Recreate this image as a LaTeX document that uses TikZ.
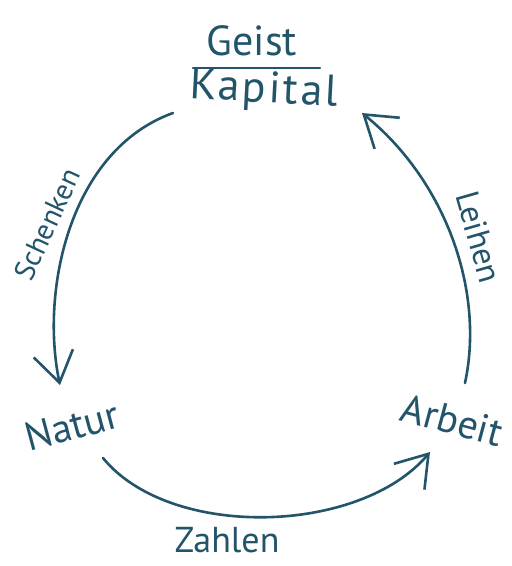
\documentclass[tikz,border=0pt]{standalone}
\usepackage{fontspec}
\setmainfont{PT Sans}
\usetikzlibrary{arrows.meta}
\definecolor{ink}{HTML}{22546A}
\begin{document}
\begin{tikzpicture}[x=1pt,y=-1pt,
  lbl/.style={text=ink,inner sep=0pt},
  conn/.style={draw=ink,line width=2.6pt,line cap=round,
    -{Straight Barb[length=30pt,width=40pt,line width=2.6pt]}}]
\useasboundingbox[fill=white] (0,0) rectangle (512,566);
% nodes
\node[lbl,font=\fontsize{42}{42}\selectfont] (geist) at (252,41) {Geist};
\node[lbl,font=\fontsize{44}{44}\selectfont\addfontfeatures{LetterSpace=6},rotate=-3] (kapital) at (264,91) {Kapital};
\node[lbl,font=\fontsize{40}{40}\selectfont,rotate=15] (natur) at (72,426) {Natur};
\node[lbl,font=\fontsize{40}{40}\selectfont,rotate=-15] (arbeit) at (452,420) {Arbeit};
\node[lbl,font=\fontsize{36}{36}\selectfont] (zahlen) at (227,540) {Zahlen};
\node[lbl,font=\fontsize{29}{29}\selectfont,rotate=65] (schenken) at (47,224) {Schenken};
\node[lbl,font=\fontsize{33}{33}\selectfont,rotate=-74] (leihen) at (479,237) {Leihen};
% fraction line
\coordinate (fl) at (193,68);
\coordinate (fr) at (320,68);
\draw[ink,line width=2.2pt,line cap=round] (fl) -- (fr);
% connector end points
\coordinate (kL) at (173,113);
\coordinate (nT) at (60,385);
\coordinate (nR) at (103,458);
\coordinate (aL) at (430,452);
\coordinate (aT) at (465,383);
\coordinate (kR) at (362,113);
% connectors
\draw[conn] (kL) .. controls (70,150) and (40,290) .. (nT);
\draw[conn] (nR) .. controls (170,540) and (360,535) .. (aL);
\draw[conn] (aT) .. controls (485,290) and (445,180) .. (kR);
\end{tikzpicture}
\end{document}
